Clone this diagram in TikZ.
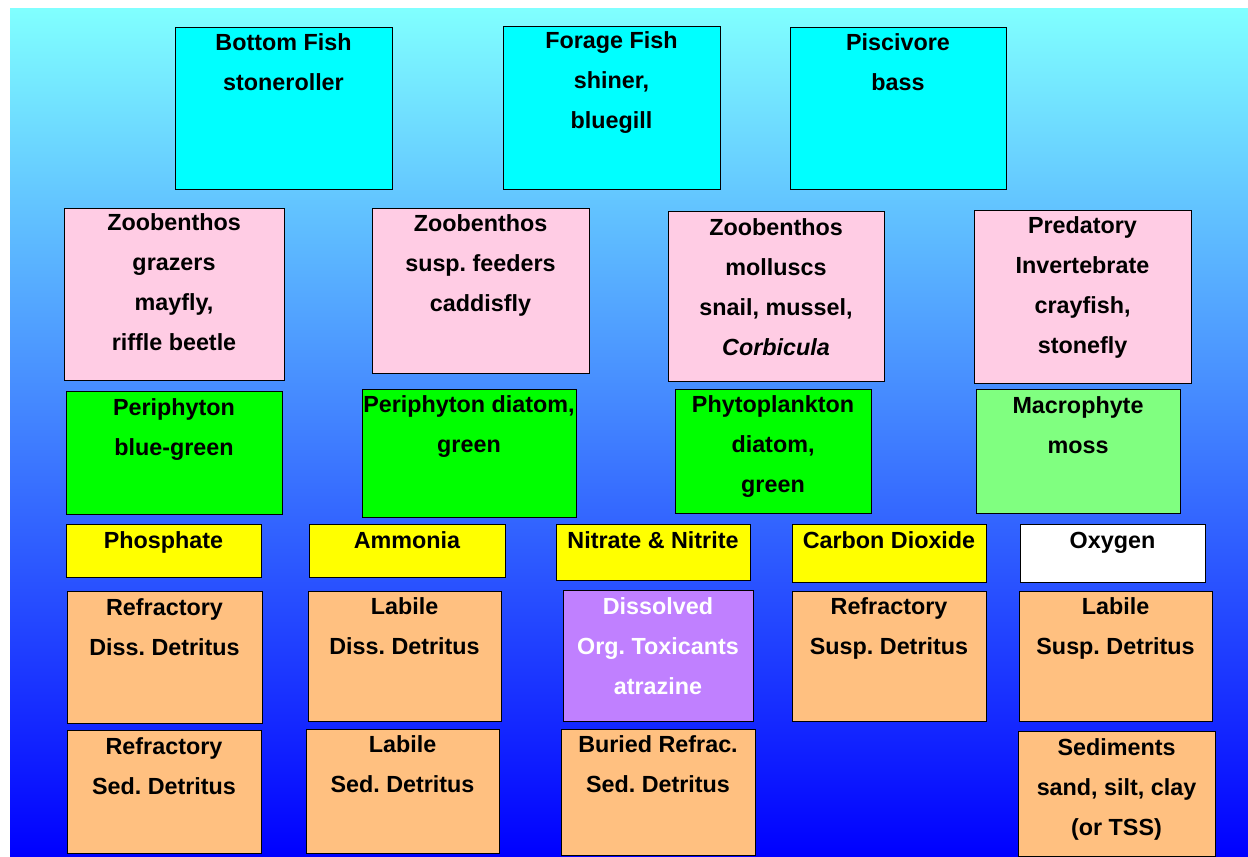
\documentclass[tikz,border=0pt]{standalone}
\usepackage{fontspec}
\setmainfont{Liberation Sans}
\frenchspacing
\definecolor{bgtop}{RGB}{128,255,255}
\definecolor{bgbot}{RGB}{0,0,255}
\definecolor{fishc}{RGB}{0,255,255}
\definecolor{zooc}{RGB}{255,204,228}
\definecolor{algc}{RGB}{0,255,0}
\definecolor{macc}{RGB}{128,255,128}
\definecolor{nutc}{RGB}{255,255,0}
\definecolor{detc}{RGB}{255,192,128}
\definecolor{toxc}{RGB}{192,128,255}
\tikzset{
  box/.style={draw=black,line width=0.8pt,inner sep=0pt,anchor=north west},
  txt/.style={inner sep=0pt,anchor=north,align=center,font=\fontsize{17.5}{30}\selectfont\bfseries\frenchspacing}
}
% #1 text opts, #2 name, #3 x1, #4 y1, #5 x2, #6 y2, #7 fill, #8 text top y, #9 text
\newcommand\bx[9][]{%
  \node[box,fill=#7,minimum width={(#5-#3)*0.75pt},minimum height={(#6-#4)*0.75pt}] (#2) at (#3,#4) {};
  \node[txt,#1] (#2-t) at ({(#3+#5)/2},{#8-1}) {#9};
}
\begin{document}
\begin{tikzpicture}[x=0.75pt,y=-0.75pt]
\useasboundingbox (0,0) rectangle (1248,856);
\shade[top color=bgtop,bottom color=bgbot] (10,9) rectangle (1248,856);
% fish
\bx{bf}{175}{27}{392}{189}{fishc}{34}{Bottom Fish\\stoneroller}
\bx{ff}{503}{26}{720}{189}{fishc}{32}{Forage Fish\\shiner,\\bluegill}
\bx{pv}{790}{27}{1006}{189}{fishc}{34}{Piscivore\\bass}
% zoobenthos
\bx{zg}{64}{208}{284}{380}{zooc}{214}{Zoobenthos\\grazers\\mayfly,\\riffle beetle}
\bx{zs}{372}{208}{589}{373}{zooc}{215}{Zoobenthos\\susp. feeders\\caddisfly}
\bx{zm}{668}{211}{884}{381}{zooc}{219}{Zoobenthos\\molluscs\\snail, mussel,\\\textit{Corbicula}}
\bx{pi}{974}{210}{1191}{383}{zooc}{217}{Predatory\\Invertebrate\\crayfish,\\stonefly}
% plants
\bx{pb}{66}{391}{282}{514}{algc}{399}{Periphyton\\blue-green}
\bx{pd}{362}{389}{576}{517}{algc}{396}{Periphyton diatom,\\green}
\bx{ph}{675}{389}{871}{513}{algc}{396}{Phytoplankton\\diatom,\\green}
\bx{mp}{976}{389}{1180}{513}{macc}{397}{Macrophyte\\moss}
% nutrients
\bx{po}{66}{524}{261}{577}{nutc}{532}{Phosphate}
\bx{am}{309}{524}{505}{577}{nutc}{532}{Ammonia}
\bx{ni}{556}{524}{750}{580}{nutc}{532}{Nitrate \& Nitrite}
\bx{co}{792}{524}{986}{582}{nutc}{532}{Carbon Dioxide}
\bx{ox}{1020}{524}{1205}{582}{white}{533}{Oxygen}
% detritus
\bx{rdd}{67}{591}{262}{723}{detc}{599}{Refractory\\Diss. Detritus}
\bx{ldd}{308}{591}{501}{721}{detc}{598}{Labile\\Diss. Detritus}
\bx[text=white]{tox}{563}{590}{753}{721}{toxc}{598}{Dissolved\\Org. Toxicants\\atrazine}
\bx{rsd}{792}{591}{986}{721}{detc}{598}{Refractory\\Susp. Detritus}
\bx{lsd}{1019}{591}{1212}{721}{detc}{598}{Labile\\Susp. Detritus}
\bx{rsed}{67}{730}{261}{853}{detc}{738}{Refractory\\Sed. Detritus}
\bx{lsed}{306}{729}{499}{853}{detc}{736}{Labile\\Sed. Detritus}
\bx{brsd}{561}{729}{755}{855}{detc}{736}{Buried Refrac.\\Sed. Detritus}
\bx{sed}{1018}{731}{1215}{856}{detc}{739}{Sediments\\sand, silt, clay\\(or TSS)}
\end{tikzpicture}
\end{document}
